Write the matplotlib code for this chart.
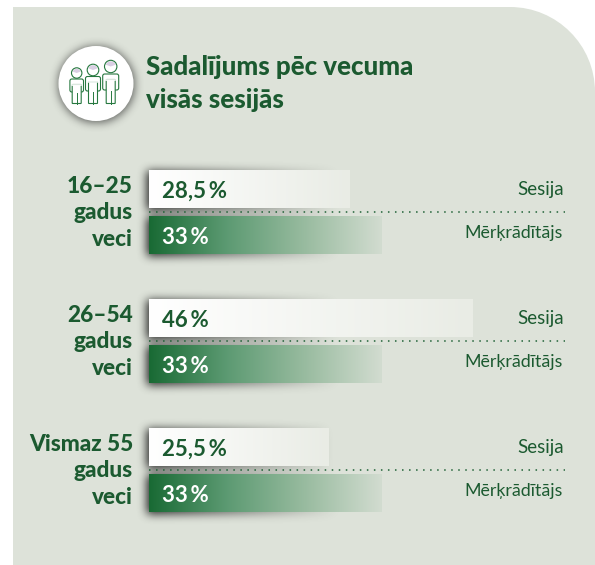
import numpy as np
import matplotlib
matplotlib.use("Agg")
import matplotlib.pyplot as plt
from matplotlib.colors import LinearSegmentedColormap
from matplotlib.patches import Circle, FancyBboxPatch, PathPatch, Wedge
from matplotlib.path import Path

plt.rcParams["font.family"] = ["Lato", "DejaVu Sans"]

# data
age_groups = ["16–25\ngadus\nveci", "26–54\ngadus\nveci", "Vismaz 55\ngadus\nveci"]
session_share = [28.5, 46, 25.5]
target_share = [33, 33, 33]
series_names = ["Sesija", "Mērķrādītājs"]
title = "Sadalījums pēc vecuma\nvisās sesijās"

PANEL = "#dde2d9"
DARK = "#1b5a30"
ICON = "#26783f"
W, H = 595, 565
BAR_H = 0.297
OFFSET = 0.178

white_grad = LinearSegmentedColormap.from_list("w", ["#ffffff", "#e9ece5"])
green_grad = LinearSegmentedColormap.from_list("g", ["#196a34", "#5c9a72", "#98bb9f", "#d2dcd0"])


def blur(a, radius, passes=3):
    kernel = np.ones(2 * radius + 1) / (2 * radius + 1)
    for _ in range(passes):
        a = np.apply_along_axis(lambda r: np.convolve(r, kernel, mode="same"), 0, a)
        a = np.apply_along_axis(lambda r: np.convolve(r, kernel, mode="same"), 1, a)
    return a


fig = plt.figure(figsize=(W / 100, H / 100), dpi=100, facecolor="white")

# background panel, shadows and the icon sit in a pixel sized axes
bg = fig.add_axes([0, 0, 1, 1])
bg.set_xlim(0, W)
bg.set_ylim(H, 0)
bg.axis("off")
r = 85
k = 0.5523 * r
verts = [(13, H), (13, 7), (W - r, 7), (W - r + k, 7), (W, 7 + r - k), (W, 7 + r), (W, H), (13, H)]
codes = [Path.MOVETO, Path.LINETO, Path.LINETO, Path.CURVE4, Path.CURVE4, Path.CURVE4, Path.LINETO, Path.CLOSEPOLY]
bg.add_patch(PathPatch(Path(verts, codes), facecolor=PANEL, edgecolor="none"))

# bars axes: x in percent, y in age group rows
ax = fig.add_axes([149 / W, 1 - 560.3 / H, 422 / W, 412.8 / H])
ax.patch.set_alpha(0)
ax.set_xlim(0, 60)
ax.set_ylim(2.7, -0.5)
ax.axis("off")

rows = np.arange(len(age_groups))
session_bars = ax.barh(rows - OFFSET, session_share, height=BAR_H, facecolor="none", edgecolor="none")
target_bars = ax.barh(rows + OFFSET, target_share, height=BAR_H, facecolor="none", edgecolor="none")

for bars, cmap in ((session_bars, white_grad), (target_bars, green_grad)):
    for bar in bars:
        x0, x1 = bar.get_x(), bar.get_x() + bar.get_width()
        y0, y1 = bar.get_y(), bar.get_y() + bar.get_height()
        im = ax.imshow(np.linspace(0, 1, 256)[None, :], extent=(x0, x1, y1, y0), aspect="auto",
                       cmap=cmap, zorder=2)
        im.set_clip_path(bar)
ax.set_xlim(0, 60)
ax.set_ylim(2.7, -0.5)

# soft shadow, strongest at the left end of each bar
fig.canvas.draw()
mask = np.zeros((H, W))
for bar in list(session_bars) + list(target_bars):
    box = bar.get_window_extent()
    x0, x1 = int(round(box.x0)), int(round(box.x1))
    y0, y1 = H - int(round(box.y1)), H - int(round(box.y0))
    fade = np.clip(1 - np.arange(x1 - x0) / 190.0, 0, 1)
    mask[y0 + 1:y1 + 2, x0 - 2:x1 - 2] = np.maximum(mask[y0 + 1:y1 + 2, x0 - 2:x1 - 2], fade)
yy, xx = np.mgrid[0:H, 0:W]
mask = np.maximum(mask, ((xx - 96) ** 2 + (yy - 84) ** 2 < 38 ** 2) * 0.7)
shadow = blur(mask, 4)
rgba = np.zeros((H, W, 4))
rgba[..., :3] = 0.1
rgba[..., 3] = np.clip(shadow * 1.0, 0, 1)
bg.imshow(rgba, extent=(0, W, H, 0), aspect="auto", zorder=2)
bg.set_xlim(0, W)
bg.set_ylim(H, 0)

# icon
bg.add_patch(Circle((96, 83.5), 37.5, facecolor="white", edgecolor="none", zorder=3))
people = ((76.7, 73, 5.2, 79, 92, 6.8), (93, 70, 5.8, 76.5, 91, 7.5), (110.7, 66.5, 6.2, 74, 90, 8))
for cx, head_y, head_r, top, arm_end, half in people:
    bg.add_patch(Wedge((cx, head_y), head_r - 1, 200, 340, facecolor="#d9cfe3", edgecolor="none", zorder=4))
    bg.add_patch(Circle((cx, head_y), head_r, facecolor="none", edgecolor=ICON, lw=0.8, zorder=4))
    bg.add_patch(FancyBboxPatch((cx - half + 2, top + 2), 2 * half - 4, arm_end - top - 4,
                                boxstyle="round,pad=2", facecolor="white", edgecolor=ICON, lw=0.8, zorder=4))
    bg.add_patch(FancyBboxPatch((cx - 4, top + 6), 8, 104 - top - 7, boxstyle="round,pad=0.5",
                                facecolor="white", edgecolor=ICON, lw=0.8, zorder=5))
    bg.plot([cx, cx], [arm_end + 1, 104], color=ICON, lw=0.7, zorder=6)
    bg.plot([cx - 4.4, cx + 4.4], [top + 5.5, top + 5.5], color="white", lw=1.2, zorder=6)

title_lines = title.split("\n")
bg.text(146, 67, title_lines[0], fontsize=18.6, fontweight="black", color=DARK, va="center", ha="left", zorder=4)
bg.text(146, 100, title_lines[1], fontsize=18.6, fontweight="black", color=DARK, va="center", ha="left", zorder=4)

# dotted separators, category labels, values and series names
for i, label in enumerate(age_groups):
    ax.plot([0, 59.2], [i, i], color="#1f6136", lw=1.1, linestyle=(0, (1, 3.6)), zorder=3)
    ax.annotate(label, xy=(0, i), xytext=(-16, -1), textcoords="offset pixels", ha="right", va="center",
                fontsize=16.3, fontweight="black", color=DARK, linespacing=1.34, zorder=4)
    ax.annotate(f"{session_share[i]:g}\u2009%".replace(".", ","), xy=(0, i - OFFSET), xytext=(13, -2),
                textcoords="offset pixels", ha="left", va="center", fontsize=16, fontweight="bold",
                color=DARK, zorder=4)
    ax.annotate(f"{target_share[i]:g}\u2009%".replace(".", ","), xy=(0, i + OFFSET), xytext=(13, -3),
                textcoords="offset pixels", ha="left", va="center", fontsize=16, fontweight="bold",
                color="white", zorder=4)
    ax.annotate(series_names[0], xy=(59, i - OFFSET), ha="right", va="center", fontsize=13.5,
                color=DARK, zorder=4)
    ax.annotate(series_names[1], xy=(59, i + OFFSET), xytext=(-1, 2), textcoords="offset pixels",
                ha="right", va="center", fontsize=12.8, color=DARK, zorder=4)

fig.savefig("out.png", dpi=100)
